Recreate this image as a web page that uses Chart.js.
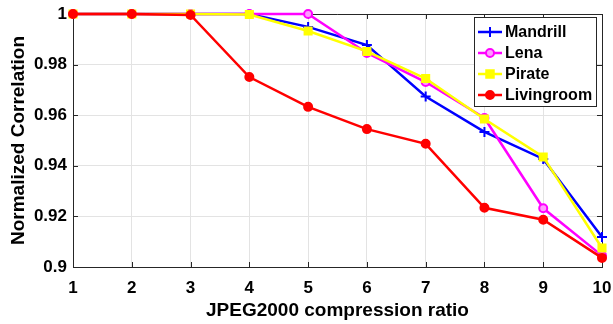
<!DOCTYPE html>
<html>
<head>
<meta charset="utf-8">
<script src="https://cdn.jsdelivr.net/npm/chart.js@4/dist/chart.umd.min.js"></script>
<style>
  html, body { margin: 0; padding: 0; background: #fff; }
  #wrap { width: 613px; height: 324px; }
</style>
</head>
<body>
<div id="wrap"><canvas id="c" width="613" height="324"></canvas></div>
<script>
const ratios = [1, 2, 3, 4, 5, 6, 7, 8, 9, 10];
const mandrill = [1, 1, 1, 1, 0.9949, 0.9877, 0.9674, 0.9534, 0.9427, 0.9119];
const lena = [1, 1, 1, 1, 1, 0.9846, 0.9731, 0.9589, 0.9232, 0.9045];
const pirate = [1, 1, 1, 0.9998, 0.9933, 0.9852, 0.9745, 0.9585, 0.9435, 0.9075];
const livingroom = [1, 1, 0.9996, 0.9751, 0.9633, 0.9545, 0.9487, 0.9234, 0.9187, 0.9036];
const yTicks = [0.9, 0.92, 0.94, 0.96, 0.98, 1];

const FONT = '"Liberation Sans", Arial, Helvetica, sans-serif';

function pts(arr) {
    return ratios.map((r, i) => ({x: r, y: arr[i]}));
}

// draw a legend marker like the chart's point styles
function marker(ctx, ds, x, y) {
    ctx.save();
    ctx.strokeStyle = ds.borderColor;
    ctx.fillStyle = ds.pointBackgroundColor;
    ctx.lineWidth = ds.pointBorderWidth;
    const r = ds.pointRadius;
    ctx.beginPath();
    if (ds.pointStyle === 'cross') {
        ctx.moveTo(x - r, y); ctx.lineTo(x + r, y);
        ctx.moveTo(x, y - r); ctx.lineTo(x, y + r);
        ctx.stroke();
    } else if (ds.pointStyle === 'rect') {
        ctx.rect(x - r * 0.75, y - r * 0.75, r * 1.5, r * 1.5);
        ctx.fill(); ctx.stroke();
    } else {
        ctx.arc(x, y, r, 0, Math.PI * 2);
        ctx.fill(); ctx.stroke();
    }
    ctx.restore();
}

const frameAndLegend = {
    id: 'frameAndLegend',
    beforeDatasetsDraw(chart) {
        const {ctx, chartArea: a, scales} = chart;
        ctx.save();
        ctx.strokeStyle = '#262626';
        ctx.lineWidth = 1;
        ctx.beginPath();
        ctx.moveTo(a.left, a.top + 0.5); ctx.lineTo(a.right + 0.5, a.top + 0.5);
        ctx.lineTo(a.right + 0.5, a.bottom);
        // inward ticks
        scales.x.ticks.forEach(t => {
            const px = Math.round(scales.x.getPixelForValue(t.value)) + 0.5;
            ctx.moveTo(px, a.bottom); ctx.lineTo(px, a.bottom - 5);
            ctx.moveTo(px, a.top); ctx.lineTo(px, a.top + 5);
        });
        scales.y.ticks.forEach(t => {
            const py = Math.round(scales.y.getPixelForValue(t.value)) + 0.5;
            ctx.moveTo(a.left, py); ctx.lineTo(a.left + 5, py);
            ctx.moveTo(a.right, py); ctx.lineTo(a.right - 5, py);
        });
        ctx.stroke();
        ctx.restore();
    },
    afterDatasetsDraw(chart) {
        const {ctx} = chart;
        const bx = 474, by = 17.5, bw = 122, bh = 89;
        ctx.save();
        ctx.fillStyle = '#fff';
        ctx.fillRect(bx, by, bw, bh);
        ctx.strokeStyle = '#262626';
        ctx.lineWidth = 1;
        ctx.strokeRect(bx + 0.5, by, bw, bh);
        ctx.font = 'bold 16px ' + FONT;
        ctx.textBaseline = 'middle';
        ctx.fillStyle = '#000';
        chart.data.datasets.forEach((ds, i) => {
            const y = by + 14.5 + i * 21;
            ctx.strokeStyle = ds.borderColor;
            ctx.lineWidth = ds.borderWidth;
            ctx.beginPath();
            ctx.moveTo(bx + 4, y); ctx.lineTo(bx + 28, y);
            ctx.stroke();
            marker(ctx, ds, bx + 16, y);
            ctx.fillStyle = '#000';
            ctx.fillText(ds.label, bx + 31, y + 1);
        });
        ctx.restore();
    }
};

function series(label, data, color, style, bg, radius, order) {
    return {
        label, data: pts(data),
        borderColor: color, backgroundColor: color,
        borderWidth: 2.5,
        pointStyle: style, pointRadius: radius, pointHoverRadius: radius,
        pointBackgroundColor: bg, pointBorderColor: color, pointBorderWidth: 2,
        tension: 0, clip: false, order
    };
}

new Chart(document.getElementById('c'), {
    type: 'line',
    data: {
        datasets: [
            series('Mandrill', mandrill, '#0000ff', 'cross', '#0000ff', 5, 3),
            series('Lena', lena, '#ff00ff', 'circle', '#ff9cff', 4, 2),
            series('Pirate', pirate, '#ffff00', 'rect', '#ffff00', 5, 1),
            series('Livingroom', livingroom, '#ff0000', 'circle', '#ff0000', 4, 0)
        ]
    },
    options: {
        responsive: false,
        animation: false,
        layout: {padding: {top: 14, right: 11, left: 0, bottom: 0}},
        plugins: {legend: {display: false}, tooltip: {enabled: false}},
        scales: {
            x: {
                type: 'linear', min: 1, max: 10,
                afterFit: s => { s.height = 57; s.paddingLeft = 0; s.paddingRight = 0; },
                ticks: {
                    stepSize: 1, color: '#000', padding: 11,
                    font: {family: FONT, size: 17, weight: 'bold'}
                },
                grid: {color: '#e3e3e3', drawTicks: false},
                border: {color: '#262626'},
                title: {
                    display: true, text: 'JPEG2000 compression ratio', color: '#000',
                    font: {family: FONT, size: 19, weight: 'bold'},
                    padding: {top: 0, bottom: 2}
                }
            },
            y: {
                min: 0.9, max: 1,
                afterFit: s => { s.width = 73; s.paddingTop = 0; s.paddingBottom = 0; },
                afterBuildTicks: s => { s.ticks = yTicks.map(v => ({value: v})); },
                ticks: {
                    color: '#000', padding: 6,
                    font: {family: FONT, size: 17, weight: 'bold'},
                    callback: v => String(+v.toFixed(2))
                },
                grid: {color: '#e3e3e3', drawTicks: false},
                border: {color: '#262626'},
                title: {
                    display: true, text: 'Normalized Correlation', color: '#000',
                    font: {family: FONT, size: 19, weight: 'bold'},
                    padding: {top: 7, bottom: 0}
                }
            }
        }
    },
    plugins: [frameAndLegend]
});
</script>
</body>
</html>
